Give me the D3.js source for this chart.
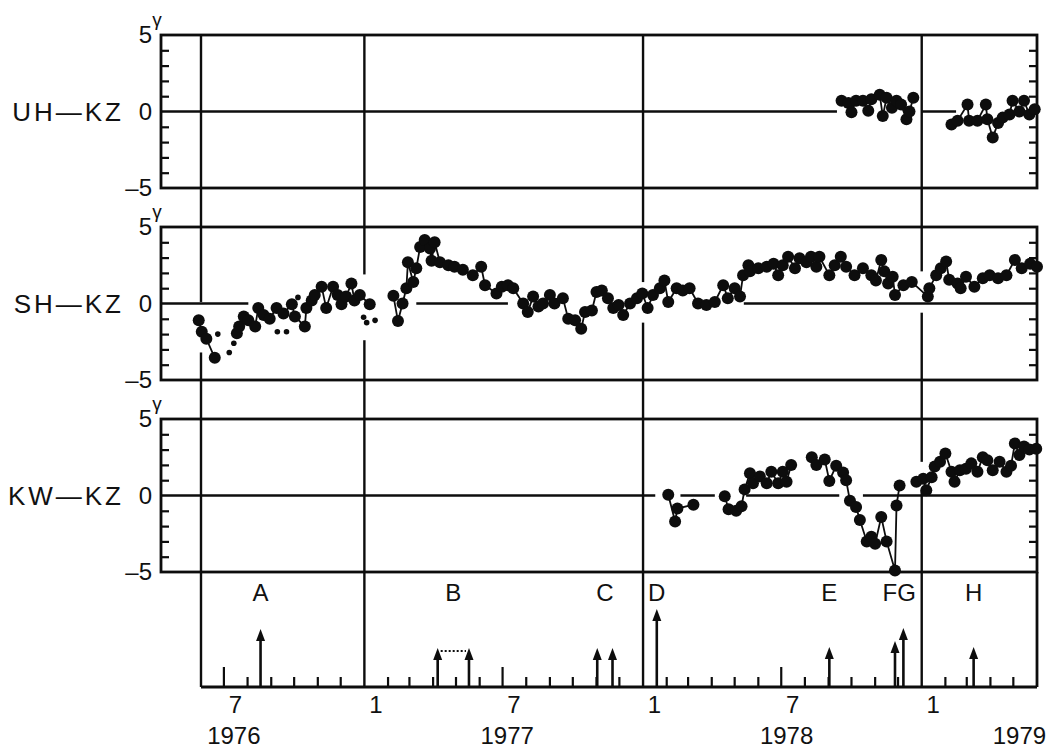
<!DOCTYPE html>
<html>
<head>
<meta charset="utf-8">
<script src="https://cdn.jsdelivr.net/npm/d3@7"></script>
<style>
  body { margin: 0; background: #fff; }
  text { font-family: "Liberation Sans", Arial, sans-serif; fill: #111; }
</style>
</head>
<body>
<script>
// differences of total field between stations, in gamma
const panelNames = ["UH\u2014KZ", "SH\u2014KZ", "KW\u2014KZ"];

const uhKz = [
  ["1978-09-18", 0.7], ["1978-09-27", 0.55], ["1978-10-01", -0.05], ["1978-10-07", 0.7],
  ["1978-10-16", 0.7], ["1978-10-23", 0.05], ["1978-10-27", 0.8], ["1978-11-07", 1.1],
  ["1978-11-11", -0.3], ["1978-11-16", 0.9], ["1978-11-23", 0.25], ["1978-11-29", 0.7],
  ["1978-12-05", 0.45], ["1978-12-12", -0.5], ["1978-12-16", 0], ["1978-12-21", 0.9],
  ["1979-01-15", null],
  ["1979-02-09", -0.85], ["1979-02-17", -0.6], ["1979-03-02", 0.45], ["1979-03-04", -0.6],
  ["1979-03-15", -0.6], ["1979-03-26", 0.45], ["1979-03-28", -0.5], ["1979-04-04", -1.7],
  ["1979-04-11", -0.75], ["1979-04-17", -0.4], ["1979-04-26", -0.2], ["1979-04-30", 0.7],
  ["1979-05-09", 0], ["1979-05-15", 0.7], ["1979-05-22", -0.2], ["1979-05-29", 0.15]
];

const shKz = [
  ["1976-05-29", -1.1], ["1976-06-02", -1.85], ["1976-06-08", -2.3], ["1976-06-19", -3.55],
  ["1976-07-05", null],
  ["1976-07-18", -1.95], ["1976-07-21", -1.5], ["1976-07-27", -0.85], ["1976-08-02", -1.1],
  ["1976-08-11", -1.5], ["1976-08-15", -0.3], ["1976-08-22", -0.75], ["1976-08-30", -1.0],
  ["1976-09-08", -0.3], ["1976-09-17", -0.65], ["1976-09-28", -0.05], ["1976-10-02", -0.85],
  ["1976-10-15", -1.5], ["1976-10-17", -0.3], ["1976-10-24", 0.2], ["1976-10-28", 0.55],
  ["1976-11-06", 1.1], ["1976-11-12", -0.3], ["1976-11-21", 1.1], ["1976-11-27", 0.55],
  ["1976-12-02", -0.05], ["1976-12-08", 0.45], ["1976-12-15", 1.3], ["1976-12-19", 0.2],
  ["1976-12-26", 0.55], ["1977-01-08", -0.05],
  ["1977-01-25", null],
  ["1977-02-08", 0.5], ["1977-02-14", -1.15], ["1977-02-20", 0], ["1977-02-25", 1.0],
  ["1977-02-27", 2.7], ["1977-03-06", 1.4], ["1977-03-10", 2.3], ["1977-03-15", 3.7],
  ["1977-03-21", 4.15], ["1977-03-28", 3.6], ["1977-03-30", 2.8], ["1977-04-03", 4.0],
  ["1977-04-10", 2.7], ["1977-04-21", 2.5], ["1977-04-29", 2.4], ["1977-05-10", 2.2],
  ["1977-05-23", 1.85], ["1977-06-03", 2.4], ["1977-06-08", 1.2], ["1977-06-23", 0.65],
  ["1977-06-30", 1.1], ["1977-07-08", 1.2], ["1977-07-15", 1.0], ["1977-07-28", 0],
  ["1977-08-03", -0.55], ["1977-08-10", 0.45], ["1977-08-17", -0.2], ["1977-08-23", 0],
  ["1977-09-01", 0.55], ["1977-09-07", 0], ["1977-09-18", 0.35], ["1977-09-25", -1.0],
  ["1977-10-04", -1.1], ["1977-10-12", -1.65], ["1977-10-17", -0.55], ["1977-10-26", -0.45],
  ["1977-11-01", 0.75], ["1977-11-08", 0.85], ["1977-11-16", 0.35], ["1977-11-23", -0.3],
  ["1977-11-30", -0.1], ["1977-12-06", -0.75], ["1977-12-15", 0], ["1977-12-24", 0.35],
  ["1977-12-31", 0.65], ["1978-01-07", -0.3], ["1978-01-14", 0.55], ["1978-01-23", 1.0],
  ["1978-01-29", 1.5], ["1978-02-03", 0.1], ["1978-02-14", 1.0], ["1978-02-22", 0.85],
  ["1978-03-03", 1.0], ["1978-03-14", 0], ["1978-03-25", -0.1], ["1978-04-05", 0.1],
  ["1978-04-16", 1.2], ["1978-04-22", 0.35], ["1978-05-01", 1.0], ["1978-05-08", 0.45],
  ["1978-05-12", 1.85], ["1978-05-19", 2.5], ["1978-05-21", 2.1], ["1978-06-01", 2.3],
  ["1978-06-12", 2.4], ["1978-06-21", 2.6], ["1978-06-27", 1.85], ["1978-07-03", 2.5],
  ["1978-07-10", 3.05], ["1978-07-19", 2.3], ["1978-07-25", 2.95], ["1978-08-03", 2.7],
  ["1978-08-09", 3.05], ["1978-08-16", 2.4], ["1978-08-20", 3.05], ["1978-09-02", 1.85],
  ["1978-09-09", 2.5], ["1978-09-17", 3.05], ["1978-09-24", 2.4], ["1978-10-05", 1.85],
  ["1978-10-16", 2.3], ["1978-10-27", 1.85], ["1978-11-02", 1.5], ["1978-11-09", 2.85],
  ["1978-11-13", 2.1], ["1978-11-18", 1.3], ["1978-11-24", 1.75], ["1978-11-27", 0.55],
  ["1978-12-08", 1.2], ["1978-12-19", 1.4], ["1979-01-09", 0.45], ["1979-01-11", 1.0],
  ["1979-01-20", 1.85], ["1979-01-26", 2.3], ["1979-02-02", 2.75], ["1979-02-06", 1.55],
  ["1979-02-17", 1.3], ["1979-02-21", 1.0], ["1979-02-28", 1.75], ["1979-03-11", 1.1],
  ["1979-03-22", 1.65], ["1979-03-31", 1.85], ["1979-04-11", 1.65], ["1979-04-22", 1.85],
  ["1979-05-03", 2.85], ["1979-05-12", 2.3], ["1979-05-23", 2.6], ["1979-06-01", 2.4]
];

const shKzSmall = [
  ["1976-06-23", -2.0], ["1976-07-08", -3.2], ["1976-07-14", -2.6], ["1976-09-09", -1.85],
  ["1976-09-21", -1.85], ["1976-10-06", 0.4], ["1976-12-31", -0.9], ["1977-01-04", -1.25],
  ["1977-01-15", -1.1]
];

const kwKz = [
  ["1978-02-03", 0.05], ["1978-02-12", -1.7], ["1978-02-15", -0.85], ["1978-03-08", -0.6],
  ["1978-03-25", null],
  ["1978-04-18", -0.05], ["1978-04-23", -0.9], ["1978-05-03", -1.0], ["1978-05-10", -0.7],
  ["1978-05-14", 0.4], ["1978-05-21", 1.45], ["1978-05-25", 0.8], ["1978-06-03", 1.25],
  ["1978-06-12", 0.8], ["1978-06-18", 1.55], ["1978-06-27", 0.8], ["1978-07-03", 1.55],
  ["1978-07-08", 0.9], ["1978-07-14", 2.0],
  ["1978-07-30", null],
  ["1978-08-10", 2.5], ["1978-08-16", 2.0], ["1978-08-27", 2.35], ["1978-09-02", 0.95],
  ["1978-09-11", 1.95], ["1978-09-20", 1.5], ["1978-09-24", 1.0], ["1978-09-29", -0.35],
  ["1978-10-07", -0.75], ["1978-10-12", -1.6], ["1978-10-21", -3.0], ["1978-10-27", -2.7],
  ["1978-11-01", -3.15], ["1978-11-09", -1.4], ["1978-11-16", -3.0], ["1978-11-27", -4.9],
  ["1978-11-29", -0.65], ["1978-12-03", 0.65],
  ["1978-12-14", null],
  ["1978-12-25", 0.9], ["1979-01-03", 1.1], ["1979-01-07", 0.35], ["1979-01-14", 1.2],
  ["1979-01-18", 1.9], ["1979-01-25", 2.2], ["1979-02-01", 2.75], ["1979-02-09", 1.55],
  ["1979-02-13", 0.9], ["1979-02-20", 1.65], ["1979-02-28", 1.75], ["1979-03-07", 2.1],
  ["1979-03-15", 1.55], ["1979-03-22", 2.5], ["1979-03-28", 2.3], ["1979-04-04", 1.65],
  ["1979-04-13", 2.2], ["1979-04-22", 1.55], ["1979-04-28", 1.95], ["1979-05-03", 3.4],
  ["1979-05-09", 2.65], ["1979-05-15", 3.2], ["1979-05-22", 3.0], ["1979-05-31", 3.05]
];

// stretches where the zero line is drawn (null = frame edge)
const uhZeroLine = [[null, "1978-09-12"], ["1979-01-01", "1979-02-15"]];
const shZeroLine = [[null, "1976-08-02"], ["1977-03-10", "1977-07-08"], ["1978-05-13", null]];
const kwZeroLine = [[null, "1978-01-17"], ["1978-02-19", "1978-04-05"], ["1978-05-16", "1978-09-15"], ["1978-10-16", null]];

// vertical lines, and where they are left open around the data (gamma range)
const yearLines = ["1976-06-01", "1977-01-01", "1978-01-01", "1979-01-01"];
const uhLineGaps = [null, null, null, null];
const shLineGaps = [[0.1, -3.2], [1.9, -2.4], [1.4, -1.25], [2.1, -0.6]];
const kwLineGaps = [null, null, null, [2.2, 0.3]];

// events
const quakeDates = ["1976-08-18", "1977-04-07", "1977-05-18", "1977-11-02", "1977-11-22",
  "1978-01-19", "1978-09-02", "1978-11-27", "1978-12-08", "1979-03-10"];
const quakeSize = [5.8, 3.9, 3.9, 3.9, 3.9, 7.8, 4.0, 4.6, 5.9, 4.0];
const quakeGroup = ["A", "B", "B", "C", "C", "D", "E", "FG", "FG", "H"];
const linkedGroups = ["B"];

const yearLabels = ["1976", "1977", "1978", "1979"];
const yearLabelDates = ["1976-07-14", "1977-07-07", "1978-07-08", "1979-05-09"];

const parse = d3.timeParse("%Y-%m-%d");
const ink = "#0d0d0d";

const frame = { left: 161, right: 1037, panelH: 153, baseline: 687 };
const panelTops = [35, 227, 419];

const svg = d3.select("body").append("svg")
  .attr("width", 1048)
  .attr("height", 751);

const x = d3.scaleTime()
  .domain([parse("1976-06-01"), parse("1979-06-01")])
  .range([201, 1037]);

const xc = d => d == null ? null : x(parse(d));

const panels = [
  { name: panelNames[0], data: uhKz, small: [], zero: uhZeroLine, gaps: uhLineGaps },
  { name: panelNames[1], data: shKz, small: shKzSmall, zero: shZeroLine, gaps: shLineGaps },
  { name: panelNames[2], data: kwKz, small: [], zero: kwZeroLine, gaps: kwLineGaps }
];
panels.forEach((p, i) => {
  p.y = d3.scaleLinear().domain([-5, 5]).range([panelTops[i] + frame.panelH, panelTops[i]]);
});

// vertical year lines through all panels
svg.append("g").selectAll("line")
  .data(yearLines)
  .join("line")
  .attr("x1", d => xc(d)).attr("x2", d => xc(d))
  .attr("y1", panelTops[0]).attr("y2", frame.baseline)
  .attr("stroke", ink).attr("stroke-width", 2.4);

// open the vertical lines around the data
panels.forEach(p => {
  p.gaps.forEach((g, j) => {
    if (!g) return;
    svg.append("rect")
      .attr("x", xc(yearLines[j]) - 4).attr("width", 8)
      .attr("y", p.y(g[0])).attr("height", p.y(g[1]) - p.y(g[0]))
      .attr("fill", "#fff");
  });
});

panels.forEach((p, i) => {
  const top = panelTops[i];
  const g = svg.append("g");

  // zero line pieces
  g.selectAll(".zero")
    .data(p.zero)
    .join("line")
    .attr("class", "zero")
    .attr("x1", d => d[0] == null ? frame.left : xc(d[0]))
    .attr("x2", d => d[1] == null ? frame.right : xc(d[1]))
    .attr("y1", p.y(0)).attr("y2", p.y(0))
    .attr("stroke", ink).attr("stroke-width", 2.4);

  // frame
  g.append("rect")
    .attr("x", frame.left).attr("y", top)
    .attr("width", frame.right - frame.left).attr("height", frame.panelH)
    .attr("fill", "none").attr("stroke", ink).attr("stroke-width", 2.8);

  const minor = [-4, -3, -2, -1, 1, 2, 3, 4];
  const leftTicks = g.append("g")
    .attr("transform", "translate(" + frame.left + ",0)")
    .call(d3.axisLeft(p.y).tickValues(minor).tickSize(-8).tickFormat(""));
  const rightTicks = g.append("g")
    .attr("transform", "translate(" + frame.right + ",0)")
    .call(d3.axisRight(p.y).tickValues(minor).tickSize(-8).tickFormat(""));
  [leftTicks, rightTicks].forEach(a => {
    a.select(".domain").remove();
    a.selectAll(".tick line").attr("stroke", ink).attr("stroke-width", 2.2);
  });

  const labels = g.append("g")
    .attr("transform", "translate(" + frame.left + ",0)")
    .call(d3.axisLeft(p.y).tickValues([-5, 0, 5]).tickSize(0).tickPadding(9)
      .tickFormat(d => d < 0 ? "\u2013" + (-d) : d));
  labels.select(".domain").remove();
  labels.selectAll(".tick text")
    .attr("font-size", 24)
    .attr("font-family", "Liberation Sans, Arial, sans-serif")
    .attr("fill", ink);

  // gamma unit mark
  g.append("text")
    .attr("x", 157).attr("y", top - 9)
    .attr("text-anchor", "middle")
    .attr("font-size", 19)
    .attr("font-family", "DejaVu Sans, sans-serif")
    .text("\u03b3");

  g.append("text")
    .attr("x", 124).attr("y", p.y(0))
    .attr("dy", "0.36em")
    .attr("text-anchor", "end")
    .attr("font-size", 26)
    .attr("letter-spacing", 3)
    .text(p.name);

  // data
  const line = d3.line()
    .defined(d => d[1] != null)
    .x(d => xc(d[0]))
    .y(d => p.y(d[1]));

  g.append("path")
    .datum(p.data)
    .attr("d", line)
    .attr("fill", "none")
    .attr("stroke", ink)
    .attr("stroke-width", 1.8);

  g.selectAll(".dot")
    .data(p.data.filter(d => d[1] != null))
    .join("circle")
    .attr("class", "dot")
    .attr("cx", d => xc(d[0]))
    .attr("cy", d => p.y(d[1]))
    .attr("r", 6)
    .attr("fill", ink);

  g.selectAll(".small")
    .data(p.small)
    .join("circle")
    .attr("class", "small")
    .attr("cx", d => xc(d[0]))
    .attr("cy", d => p.y(d[1]))
    .attr("r", 2.8)
    .attr("fill", ink);
});

// event panel
const ev = svg.append("g");
const kwBottom = panelTops[2] + frame.panelH;

ev.append("line")
  .attr("x1", x.range()[0]).attr("x2", frame.right)
  .attr("y1", frame.baseline).attr("y2", frame.baseline)
  .attr("stroke", ink).attr("stroke-width", 2.8);
ev.append("line")
  .attr("x1", frame.right).attr("x2", frame.right)
  .attr("y1", kwBottom).attr("y2", frame.baseline)
  .attr("stroke", ink).attr("stroke-width", 2.8);

const months = d3.timeMonth.range(parse("1976-07-01"), parse("1979-06-01"))
  .filter(m => m.getMonth() !== 0);
ev.selectAll(".mtick")
  .data(months)
  .join("line")
  .attr("class", "mtick")
  .attr("x1", d => x(d)).attr("x2", d => x(d))
  .attr("y1", frame.baseline)
  .attr("y2", d => frame.baseline - (d.getMonth() === 6 ? 20 : 10))
  .attr("stroke", ink).attr("stroke-width", 2.2);

const labelMonths = d3.timeMonth.range(parse("1976-07-01"), parse("1979-06-01"))
  .filter(m => m.getMonth() === 0 || m.getMonth() === 6);
ev.selectAll(".mlabel")
  .data(labelMonths)
  .join("text")
  .attr("class", "mlabel")
  .attr("x", d => x(d3.timeDay.offset(d, 15)))
  .attr("y", 713)
  .attr("text-anchor", "middle")
  .attr("font-size", 24)
  .text(d => d.getMonth() + 1);

ev.selectAll(".ylabel")
  .data(yearLabels)
  .join("text")
  .attr("class", "ylabel")
  .attr("x", (d, i) => xc(yearLabelDates[i]))
  .attr("y", 744)
  .attr("text-anchor", "middle")
  .attr("font-size", 24)
  .text(d => d);

const sizeScale = d3.scaleLinear().domain([0, 10]).range([0, 100]);
const quakes = quakeDates.map((d, i) => ({
  x: xc(d),
  tip: frame.baseline - sizeScale(quakeSize[i]),
  group: quakeGroup[i]
}));

ev.selectAll(".stem")
  .data(quakes)
  .join("line")
  .attr("class", "stem")
  .attr("x1", d => d.x).attr("x2", d => d.x)
  .attr("y1", frame.baseline).attr("y2", d => d.tip + 9)
  .attr("stroke", ink).attr("stroke-width", 2.6);

ev.selectAll(".head")
  .data(quakes)
  .join("path")
  .attr("class", "head")
  .attr("d", d => "M" + (d.x - 4.5) + "," + (d.tip + 12) + "L" + d.x + "," + d.tip +
    "L" + (d.x + 4.5) + "," + (d.tip + 12) + "Z")
  .attr("fill", ink);

const groups = d3.groups(quakes, d => d.group);

groups.filter(([k]) => linkedGroups.includes(k)).forEach(([k, qs]) => {
  ev.append("line")
    .attr("x1", d3.min(qs, q => q.x) + 3).attr("x2", d3.max(qs, q => q.x) - 3)
    .attr("y1", d3.min(qs, q => q.tip) + 3).attr("y2", d3.min(qs, q => q.tip) + 3)
    .attr("stroke", ink).attr("stroke-width", 2.2)
    .attr("stroke-dasharray", "2,2");
});

ev.selectAll(".qlabel")
  .data(groups)
  .join("text")
  .attr("class", "qlabel")
  .attr("x", d => d3.mean(d[1], q => q.x))
  .attr("y", 601)
  .attr("text-anchor", "middle")
  .attr("font-size", 24)
  .text(d => d[0]);
</script>
</body>
</html>
